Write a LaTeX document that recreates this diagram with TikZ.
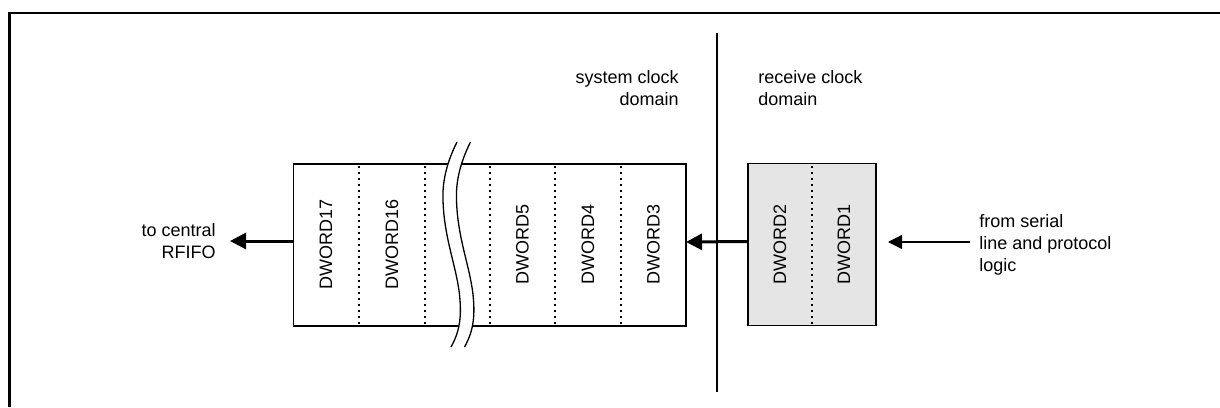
\documentclass[tikz,border=0pt]{standalone}
\usepackage{fontspec}
\setmainfont{Liberation Sans}
\usetikzlibrary{arrows.meta}
\begin{document}
\begin{tikzpicture}[x=0.5pt, y=-0.5pt, font=\fontsize{9pt}{11pt}\selectfont,
    bigarrow/.style={line width=1.5pt, -{Triangle[length=8pt,width=8pt]}},
    thinarrow/.style={line width=0.6pt, -{Triangle[length=7pt,width=7pt]}},
    divider/.style={line width=0.8pt, dash pattern=on 0.8pt off 2.2pt},
    wordlbl/.style={rotate=90, inner sep=0pt},
    buffer/.style={draw, line width=0.65pt, inner sep=0pt, outer sep=0pt, minimum height=81pt}]
    \useasboundingbox (0,0) rectangle (1220,407);
    \draw[line width=1.3pt] (9.3,407) -- (9.3,13) -- (1220,13);
    \node[buffer, minimum width=196.25pt] (fifo) at (489.75,245) {};
    \node[buffer, fill=black!10, minimum width=64pt] (rbuf) at (812,244.5) {};
    \foreach \x in {359,425,490,555,621,812} \draw[divider] (\x,166) -- (\x,325);
    \foreach \x/\n in {326/17,392/16,522.5/5,588/4,653.5/3,780/2,844/1}
        \node[wordlbl] (dw\n) at (\x,244) {DWORD\n};
    \fill[white] (457,142) .. controls (449,158) and (442,178) .. (443,200)
        .. controls (444,240) and (458,270) .. (460,300) .. controls (462,325) and (456,338) .. (451,347)
        -- (464.5,347) .. controls (469.5,338) and (475.5,325) .. (473.5,300)
        .. controls (471.5,270) and (457.5,240) .. (456.5,200) .. controls (455.5,178) and (462.5,158) .. (470.5,142) -- cycle;
    \foreach \s in {0,13.5}
        \draw[line width=0.65pt, xshift=\s*0.5pt] (457,142) .. controls (449,158) and (442,178) .. (443,200)
            .. controls (444,240) and (458,270) .. (460,300) .. controls (462,325) and (456,338) .. (451,347);
    \draw[line width=0.6pt] (717,33) -- (717,392);
    \node[align=right, anchor=east, inner sep=0pt] (sysdom) at (679,88.5) {system clock\\domain};
    \node[align=left, anchor=west, inner sep=0pt] (rcvdom) at (758,88) {receive clock\\domain};
    \node[align=right, anchor=east, inner ysep=0pt, inner xsep=7pt] (tocentral) at (230,241) {to central\\RFIFO};
    \node[align=left, anchor=west, inner ysep=0pt, inner xsep=0pt] (fromserial) at (979,245) {from serial\\line and protocol\\logic};
    \coordinate (srcin) at (970,242);
    \draw[bigarrow] (tocentral.east -| fifo.west) -- (tocentral.east);
    \draw[bigarrow] ([yshift=1.5pt]rbuf.west) -- ([yshift=1.5pt]fifo.east);
    \draw[thinarrow, shorten >=6pt] (srcin) -- (srcin -| rbuf.east);
\end{tikzpicture}
\end{document}
